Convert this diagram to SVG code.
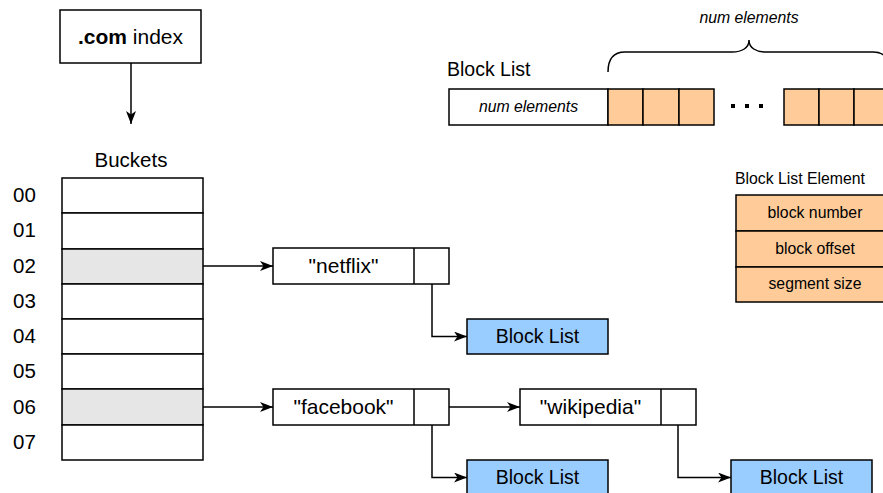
<svg xmlns="http://www.w3.org/2000/svg" width="883" height="493" viewBox="0 0 883 493">
<defs>
<style>
text{font-family:"Liberation Sans",Arial,sans-serif;fill:#000}
.big{font-size:20.5px}
.q{font-size:21px}
.bl{font-size:19.5px}
.sm{font-size:15.8px}
.it{font-style:italic}
.box{fill:#fff;stroke:#000;stroke-width:1.5}
.gray{fill:#e6e6e6;stroke:#000;stroke-width:1.5}
.org{fill:#ffcc99;stroke:#000;stroke-width:1.5}
.blue{fill:#99ccff;stroke:#000;stroke-width:1.5}
.ln{fill:none;stroke:#000;stroke-width:1.5}
</style>
<marker id="ah" viewBox="0 0 13 10" refX="13" refY="5" markerWidth="13" markerHeight="10" markerUnits="userSpaceOnUse" orient="auto">
<path d="M0,0 L13,5 L0,10 L3.5,5 z" fill="#000"/>
</marker>
</defs>

<g id="com-index">
<rect class="box" x="60" y="10" width="141" height="53"/>
<text class="q" x="130.5" y="43.5" text-anchor="middle"><tspan font-weight="bold">.com</tspan> index</text>
</g>

<g id="buckets">
<text class="big" x="131" y="167" text-anchor="middle">Buckets</text>
<rect class="box" x="62" y="178" width="141" height="35"/>
<rect class="box" x="62" y="213" width="141" height="36"/>
<rect class="gray" x="62" y="249" width="141" height="35"/>
<rect class="box" x="62" y="284" width="141" height="35"/>
<rect class="box" x="62" y="319" width="141" height="35"/>
<rect class="box" x="62" y="354" width="141" height="35"/>
<rect class="gray" x="62" y="389" width="141" height="36"/>
<rect class="box" x="62" y="425" width="141" height="35"/>
<text class="big" x="13" y="202">00</text>
<text class="big" x="13" y="237">01</text>
<text class="big" x="13" y="273">02</text>
<text class="big" x="13" y="308">03</text>
<text class="big" x="13" y="343">04</text>
<text class="big" x="13" y="378">05</text>
<text class="big" x="13" y="414">06</text>
<text class="big" x="13" y="449">07</text>
</g>

<g id="netflix">
<rect class="box" x="273" y="248" width="176" height="36"/>
<line class="ln" x1="414" y1="248" x2="414" y2="284"/>
<text class="q" x="343.5" y="273" text-anchor="middle">"netflix"</text>
</g>

<g id="facebook">
<rect class="box" x="273" y="389" width="176" height="36"/>
<line class="ln" x1="414" y1="389" x2="414" y2="425"/>
<text class="q" x="343.5" y="414" text-anchor="middle">"facebook"</text>
</g>

<g id="wikipedia">
<rect class="box" x="520" y="389" width="176" height="36"/>
<line class="ln" x1="661" y1="389" x2="661" y2="425"/>
<text class="q" x="590.5" y="414" text-anchor="middle">"wikipedia"</text>
</g>

<g id="blocklist-1">
<rect class="blue" x="467" y="319" width="141" height="35"/>
<text class="bl" x="537.5" y="343" text-anchor="middle">Block List</text>
</g>
<g id="blocklist-2">
<rect class="blue" x="467" y="460" width="141" height="35"/>
<text class="bl" x="537.5" y="484" text-anchor="middle">Block List</text>
</g>
<g id="blocklist-3">
<rect class="blue" x="731" y="460" width="141" height="35"/>
<text class="bl" x="801.5" y="484" text-anchor="middle">Block List</text>
</g>

<g id="block-list-structure">
<text class="bl" x="447" y="76">Block List</text>
<rect class="box" x="449" y="89" width="159" height="36"/>
<text class="sm it" x="528.5" y="112" text-anchor="middle">num elements</text>
<rect class="org" x="608" y="89" width="35" height="36"/>
<rect class="org" x="643" y="89" width="36" height="36"/>
<rect class="org" x="679" y="89" width="35" height="36"/>
<rect class="org" x="784" y="89" width="35" height="36"/>
<rect class="org" x="819" y="89" width="35" height="36"/>
<rect class="org" x="854" y="89" width="36" height="36"/>
<rect x="731" y="104" width="4" height="4" fill="#000"/>
<rect x="745" y="104" width="4" height="4" fill="#000"/>
<rect x="759" y="104" width="4" height="4" fill="#000"/>
<path class="ln" d="M608,72 C608,60 612,52 625,52 L732,52 C742,52 749,48 749,40 C749,48 756,52 766,52 L873,52 C886,52 890,60 890,72"/>
<text class="sm it" x="749" y="23" text-anchor="middle">num elements</text>
</g>

<g id="block-list-element">
<text class="sm" x="735" y="184">Block List Element</text>
<rect class="org" x="736" y="195" width="158" height="36"/>
<rect class="org" x="736" y="231" width="158" height="36"/>
<rect class="org" x="736" y="267" width="158" height="35"/>
<text class="sm" x="815" y="218" text-anchor="middle">block number</text>
<text class="sm" x="815" y="254" text-anchor="middle">block offset</text>
<text class="sm" x="815" y="289" text-anchor="middle">segment size</text>
</g>

<g id="connectors">
<line class="ln" x1="131" y1="63" x2="131" y2="124" marker-end="url(#ah)"/>
<line class="ln" x1="203" y1="266" x2="273" y2="266" marker-end="url(#ah)"/>
<line class="ln" x1="203" y1="407" x2="273" y2="407" marker-end="url(#ah)"/>
<line class="ln" x1="449" y1="407" x2="520" y2="407" marker-end="url(#ah)"/>
<path class="ln" d="M432,284 L432,336.5 L467,336.5" marker-end="url(#ah)"/>
<path class="ln" d="M432,425 L432,477.5 L467,477.5" marker-end="url(#ah)"/>
<path class="ln" d="M678,425 L678,477.5 L731,477.5" marker-end="url(#ah)"/>
</g>
</svg>
